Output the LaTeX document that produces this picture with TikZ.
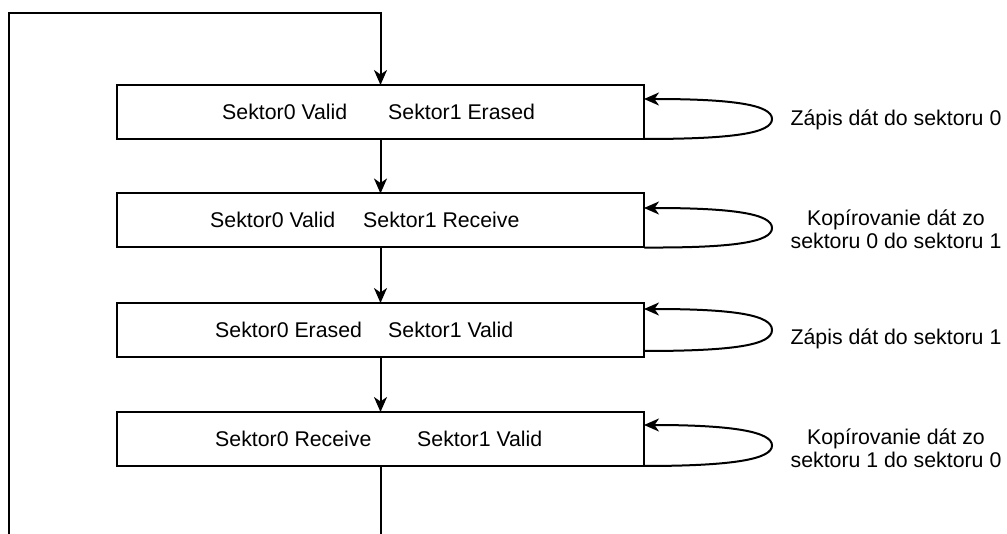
\documentclass[tikz,border=0pt]{standalone}
\usepackage{fontspec}
\setmainfont{Liberation Sans}
\usetikzlibrary{arrows.meta,calc}
\begin{document}
\begin{tikzpicture}[x=1pt,y=-1pt,
  every node/.style={font=\fontsize{21.3}{23}\selectfont, inner sep=0pt},
  statebox/.style={draw, line width=2pt, minimum width=527pt, minimum height=54pt, inner sep=0pt, outer sep=0pt},
  tip/.style={-{Stealth[length=15pt,width=13pt,inset=4.5pt]}},
  flow/.style={line width=2pt, tip},
  plain/.style={line width=2pt},
  txt/.style={anchor=base west},
  note/.style={align=center}]
\useasboundingbox (0,0) rectangle (1007,534);

% boxes
\node[statebox] (b1) at (380.5,112) {};
\node[statebox] (b2) at (380.5,220.5) {};
\node[statebox] (b3) at (380.5,330) {};
\node[statebox] (b4) at (380.5,439) {};

% box texts
\node[txt] (t1a) at (222,119.5) {Sektor0 Valid};
\node[txt] (t1b) at (388,119.5) {Sektor1 Erased};
\node[txt] (t2a) at (210,228) {Sektor0 Valid};
\node[txt] (t2b) at (363,228) {Sektor1 Receive};
\node[txt] (t3a) at (215,337.5) {Sektor0 Erased};
\node[txt] (t3b) at (388,337.5) {Sektor1 Valid};
\node[txt] (t4a) at (215,446.5) {Sektor0 Receive};
\node[txt] (t4b) at (417,446.5) {Sektor1 Valid};

% arrows between boxes
\draw[flow] (b1.south) -- (b2.north);
\draw[flow] (b2.south) -- (b3.north);
\draw[flow] (b3.south) -- (b4.north);

% feedback line
\coordinate (b4end) at (380.5,534);
\coordinate (bl) at (9,534);
\coordinate (tl) at (9,13);
\draw[plain] (b4.south) -- (b4end);
\draw[flow] (bl) -- (tl) -| (b1.north);

% self loops
\coordinate (b1in) at (644,99);
\coordinate (b2in) at (644,208);
\coordinate (b3in) at (644,309);
\coordinate (b3out) at (644,351);
\coordinate (b4in) at (644,425);

\draw[flow] (b1.south east) .. controls (734,139) and (772,133) .. (772,119) .. controls (772,105) and (734,99) .. (b1in);
\draw[flow] (b2.south east) .. controls (734,248) and (772,242) .. (772,228) .. controls (772,214) and (734,208) .. (b2in);
\draw[flow] (b3out) .. controls (734,351) and (772,345) .. (772,330) .. controls (772,315) and (734,309) .. (b3in);
\draw[flow] (b4.south east) .. controls (734,466) and (772,459) .. (772,445.5) .. controls (772,432) and (734,425) .. (b4in);

% labels
\node[note] (l1) at (896,120) {Zápis dát do sektoru 0};
\node[note] (l2) at (896,229) {Kopírovanie dát zo\\sektoru 0 do sektoru 1};
\node[note] (l3) at (896,339) {Zápis dát do sektoru 1};
\node[note] (l4) at (896,448) {Kopírovanie dát zo\\sektoru 1 do sektoru 0};
\end{tikzpicture}
\end{document}
